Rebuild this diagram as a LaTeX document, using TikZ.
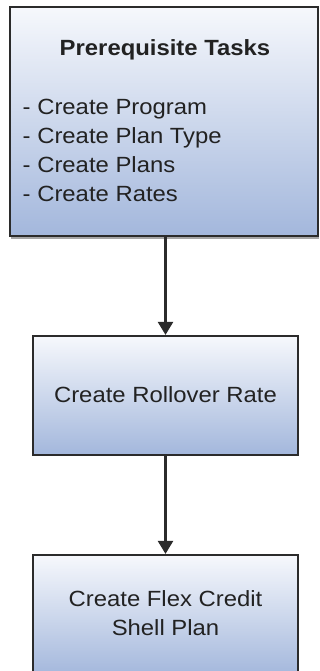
\documentclass[tikz,border=0pt]{standalone}
\usepackage{fontspec}
\setmainfont{Liberation Sans}
\usetikzlibrary{arrows.meta,shadows}
\definecolor{boxtop}{HTML}{F6F8FC}
\definecolor{boxbot}{HTML}{A3B7DC}
\definecolor{edge}{HTML}{2B2B2B}
\definecolor{txt}{HTML}{222222}
\tikzset{
  taskbox/.style={draw=edge, line width=2.2pt, top color=boxtop, bottom color=boxbot, inner sep=0pt},
  shadowed/.style={drop shadow={shadow xshift=1pt, shadow yshift=-3pt, opacity=0.35, fill=black}},
  flow/.style={draw=edge, line width=2.4pt, -{Triangle[width=15pt,length=13pt]}},
  lbl/.style={text=txt, font=\fontsize{22}{29}\selectfont, inner sep=0pt, xscale=1.085}
}
\begin{document}
\begin{tikzpicture}[x=1pt,y=-1pt]
\useasboundingbox (0,0) rectangle (320,671);
\node[taskbox, shadowed, minimum width=308pt, minimum height=229pt] (pre) at (164,121.5) {};
\node[lbl, font=\fontsize{22}{29}\selectfont\bfseries, anchor=base] (pretitle) at (165,56) {Prerequisite Tasks};
\node[lbl, align=left, anchor=north west] (prelist) at (22.5,99) {- Create Program\\- Create Plan Type\\- Create Plans\\- Create Rates};
\node[taskbox, minimum width=265pt, minimum height=119pt] (roll) at (165.5,395.5) {};
\node[lbl] (rolltext) at (165.5,395) {Create Rollover Rate};
\node[taskbox, minimum width=265pt, minimum height=121pt] (flex) at (165.5,615.5) {};
\node[lbl, align=center] (flextext) at (165.5,613) {Create Flex Credit\\Shell Plan};
\draw[flow] (pre.south -| roll.north) -- (roll.north);
\draw[flow] (roll.south) -- (flex.north);
\end{tikzpicture}
\end{document}
